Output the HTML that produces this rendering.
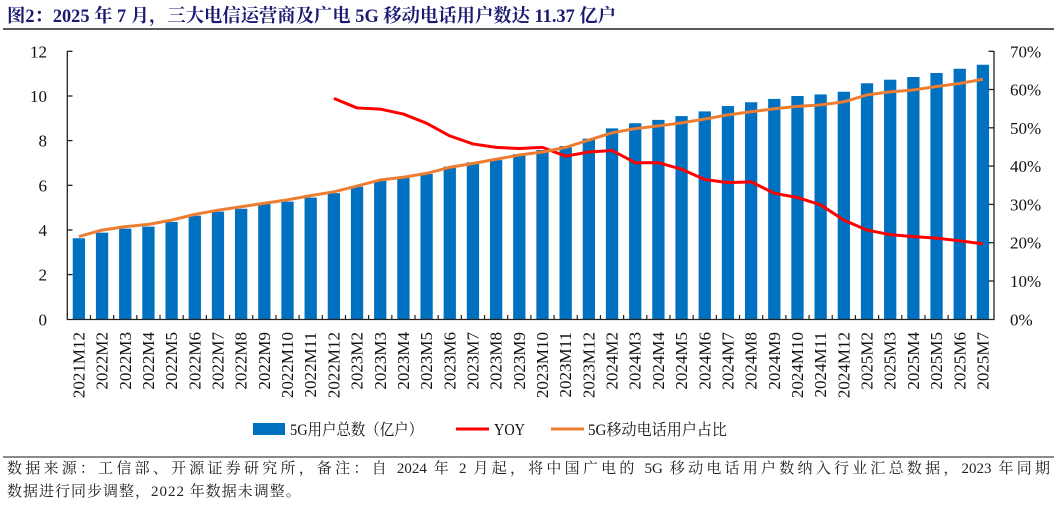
<!DOCTYPE html>
<html><head><meta charset="utf-8"><style>
html,body{margin:0;padding:0;background:#fff;}
#wrap{position:relative;width:1057px;height:508px;overflow:hidden;}
svg{display:block;position:absolute;left:0;top:0;}
.ft{position:absolute;left:7px;font-family:"Liberation Serif","Noto Serif CJK SC",serif;font-size:15px;color:#222;white-space:nowrap;line-height:18px;}
#f1{top:460px;width:1043px;text-align:justify;text-align-last:justify;white-space:normal;}
#f2{top:483px;letter-spacing:1px;}
</style></head><body>
<div id="wrap">
<svg width="1057" height="508" viewBox="0 0 1057 508" xmlns="http://www.w3.org/2000/svg">
<rect width="1057" height="508" fill="#fff"/>
<text x="7" y="22" textLength="609" lengthAdjust="spacingAndGlyphs" font-family="'Liberation Serif','Noto Serif CJK SC',serif" font-size="18.5" font-weight="bold" fill="#1a1a70">图2：2025 年 7 月，三大电信运营商及广电 5G 移动电话用户数达 11.37 亿户</text>
<line x1="3" y1="29" x2="1054" y2="29" stroke="#222" stroke-width="1.5"/>

<g transform="translate(67.3,319.3) scale(23.18,-22.33)" fill="#0070C0">
<rect x="0.235" y="0" width="0.53" height="3.63"/>
<rect x="1.235" y="0" width="0.53" height="3.88"/>
<rect x="2.235" y="0" width="0.53" height="4.06"/>
<rect x="3.235" y="0" width="0.53" height="4.15"/>
<rect x="4.235" y="0" width="0.53" height="4.36"/>
<rect x="5.235" y="0" width="0.53" height="4.64"/>
<rect x="6.235" y="0" width="0.53" height="4.82"/>
<rect x="7.235" y="0" width="0.53" height="4.95"/>
<rect x="8.235" y="0" width="0.53" height="5.16"/>
<rect x="9.235" y="0" width="0.53" height="5.27"/>
<rect x="10.235" y="0" width="0.53" height="5.45"/>
<rect x="11.235" y="0" width="0.53" height="5.65"/>
<rect x="12.235" y="0" width="0.53" height="5.94"/>
<rect x="13.235" y="0" width="0.53" height="6.21"/>
<rect x="14.235" y="0" width="0.53" height="6.36"/>
<rect x="15.235" y="0" width="0.53" height="6.51"/>
<rect x="16.235" y="0" width="0.53" height="6.84"/>
<rect x="17.235" y="0" width="0.53" height="7.03"/>
<rect x="18.235" y="0" width="0.53" height="7.13"/>
<rect x="19.235" y="0" width="0.53" height="7.40"/>
<rect x="20.235" y="0" width="0.53" height="7.58"/>
<rect x="21.235" y="0" width="0.53" height="7.76"/>
<rect x="22.235" y="0" width="0.53" height="8.09"/>
<rect x="23.235" y="0" width="0.53" height="8.55"/>
<rect x="24.235" y="0" width="0.53" height="8.78"/>
<rect x="25.235" y="0" width="0.53" height="8.93"/>
<rect x="26.235" y="0" width="0.53" height="9.10"/>
<rect x="27.235" y="0" width="0.53" height="9.31"/>
<rect x="28.235" y="0" width="0.53" height="9.55"/>
<rect x="29.235" y="0" width="0.53" height="9.72"/>
<rect x="30.235" y="0" width="0.53" height="9.87"/>
<rect x="31.235" y="0" width="0.53" height="10.00"/>
<rect x="32.235" y="0" width="0.53" height="10.07"/>
<rect x="33.235" y="0" width="0.53" height="10.19"/>
<rect x="34.235" y="0" width="0.53" height="10.57"/>
<rect x="35.235" y="0" width="0.53" height="10.73"/>
<rect x="36.235" y="0" width="0.53" height="10.85"/>
<rect x="37.235" y="0" width="0.53" height="11.03"/>
<rect x="38.235" y="0" width="0.53" height="11.22"/>
<rect x="39.235" y="0" width="0.53" height="11.40"/>
</g>

<g transform="translate(67.3,319.3) scale(23.18,-3.829)" fill="none" stroke-linejoin="round" stroke-linecap="butt">
<polyline vector-effect="non-scaling-stroke" stroke="#FF0000" stroke-width="3" points="11.5,57.7 12.5,55.2 13.5,54.9 14.5,53.6 15.5,51.2 16.5,47.9 17.5,45.8 18.5,44.9 19.5,44.6 20.5,44.9 21.5,42.6 22.5,43.7 23.5,44.1 24.5,40.9 25.5,40.9 26.5,39.2 27.5,36.5 28.5,35.7 29.5,35.9 30.5,32.9 31.5,31.8 32.5,29.9 33.5,25.9 34.5,23.3 35.5,22.1 36.5,21.6 37.5,21.2 38.5,20.5 39.5,19.7"/>
<polyline vector-effect="non-scaling-stroke" stroke="#ED7D31" stroke-width="3" points="0.5,21.6 1.5,23.3 2.5,24.2 3.5,24.8 4.5,25.9 5.5,27.4 6.5,28.5 7.5,29.4 8.5,30.3 9.5,31.2 10.5,32.3 11.5,33.3 12.5,34.8 13.5,36.4 14.5,37.1 15.5,38.1 16.5,39.7 17.5,40.7 18.5,41.8 19.5,42.9 20.5,43.7 21.5,44.9 22.5,46.8 23.5,48.7 24.5,49.8 25.5,50.5 26.5,51.3 27.5,52.3 28.5,53.4 29.5,54.2 30.5,55.0 31.5,55.6 32.5,56.0 33.5,56.8 34.5,58.6 35.5,59.4 36.5,59.9 37.5,60.8 38.5,61.6 39.5,62.7"/>
</g>

<g stroke="#222" stroke-width="1.3" fill="none">
<line x1="67.3" y1="51" x2="67.3" y2="319.5"/>
<line x1="994" y1="51" x2="994" y2="319.5"/>
<line x1="66.7" y1="319.5" x2="994.6" y2="319.5"/>
<line x1="67.3" y1="51.3" x2="72.5" y2="51.3"/>
<line x1="67.3" y1="96" x2="72.5" y2="96"/>
<line x1="67.3" y1="140.6" x2="72.5" y2="140.6"/>
<line x1="67.3" y1="185.3" x2="72.5" y2="185.3"/>
<line x1="67.3" y1="230" x2="72.5" y2="230"/>
<line x1="67.3" y1="274.6" x2="72.5" y2="274.6"/>
<line x1="988.5" y1="51.3" x2="994" y2="51.3"/>
<line x1="988.5" y1="89.5" x2="994" y2="89.5"/>
<line x1="988.5" y1="127.8" x2="994" y2="127.8"/>
<line x1="988.5" y1="166.1" x2="994" y2="166.1"/>
<line x1="988.5" y1="204.4" x2="994" y2="204.4"/>
<line x1="988.5" y1="242.7" x2="994" y2="242.7"/>
<line x1="988.5" y1="281" x2="994" y2="281"/>
</g>
<g transform="translate(67.3,0) scale(23.18,1)">
<path vector-effect="non-scaling-stroke" stroke="#222" stroke-width="1.2" d="M1,315V319.5M2,315V319.5M3,315V319.5M4,315V319.5M5,315V319.5M6,315V319.5M7,315V319.5M8,315V319.5M9,315V319.5M10,315V319.5M11,315V319.5M12,315V319.5M13,315V319.5M14,315V319.5M15,315V319.5M16,315V319.5M17,315V319.5M18,315V319.5M19,315V319.5M20,315V319.5M21,315V319.5M22,315V319.5M23,315V319.5M24,315V319.5M25,315V319.5M26,315V319.5M27,315V319.5M28,315V319.5M29,315V319.5M30,315V319.5M31,315V319.5M32,315V319.5M33,315V319.5M34,315V319.5M35,315V319.5M36,315V319.5M37,315V319.5M38,315V319.5M39,315V319.5"/>
</g>

<g font-family="'Liberation Serif',serif" font-size="17" fill="#111" text-anchor="end">
<text x="47" y="57.3">12</text>
<text x="47" y="102">10</text>
<text x="47" y="146.6">8</text>
<text x="47" y="191.3">6</text>
<text x="47" y="236">4</text>
<text x="47" y="280.6">2</text>
<text x="47" y="325.3">0</text>
</g>
<g font-family="'Liberation Serif',serif" font-size="17" fill="#111">
<text x="1010" y="57.3">70%</text>
<text x="1010" y="95.5">60%</text>
<text x="1010" y="133.8">50%</text>
<text x="1010" y="172.1">40%</text>
<text x="1010" y="210.4">30%</text>
<text x="1010" y="248.7">20%</text>
<text x="1010" y="287">10%</text>
<text x="1010" y="325.3">0%</text>
</g>

<g font-family="'Liberation Serif',serif" font-size="17" fill="#111" text-anchor="end">
<text transform="translate(84.4,332) rotate(-90)">2021M12</text>
<text transform="translate(107.6,332) rotate(-90)">2022M2</text>
<text transform="translate(130.8,332) rotate(-90)">2022M3</text>
<text transform="translate(154,332) rotate(-90)">2022M4</text>
<text transform="translate(177.1,332) rotate(-90)">2022M5</text>
<text transform="translate(200.3,332) rotate(-90)">2022M6</text>
<text transform="translate(223.5,332) rotate(-90)">2022M7</text>
<text transform="translate(246.7,332) rotate(-90)">2022M8</text>
<text transform="translate(269.8,332) rotate(-90)">2022M9</text>
<text transform="translate(293,332) rotate(-90)">2022M10</text>
<text transform="translate(316.2,332) rotate(-90)">2022M11</text>
<text transform="translate(339.4,332) rotate(-90)">2022M12</text>
<text transform="translate(362.6,332) rotate(-90)">2023M2</text>
<text transform="translate(385.8,332) rotate(-90)">2023M3</text>
<text transform="translate(408.9,332) rotate(-90)">2023M4</text>
<text transform="translate(432.1,332) rotate(-90)">2023M5</text>
<text transform="translate(455.3,332) rotate(-90)">2023M6</text>
<text transform="translate(478.5,332) rotate(-90)">2023M7</text>
<text transform="translate(501.7,332) rotate(-90)">2023M8</text>
<text transform="translate(524.8,332) rotate(-90)">2023M9</text>
<text transform="translate(548,332) rotate(-90)">2023M10</text>
<text transform="translate(571.2,332) rotate(-90)">2023M11</text>
<text transform="translate(594.4,332) rotate(-90)">2023M12</text>
<text transform="translate(617.6,332) rotate(-90)">2024M2</text>
<text transform="translate(640.7,332) rotate(-90)">2024M3</text>
<text transform="translate(663.9,332) rotate(-90)">2024M4</text>
<text transform="translate(687.1,332) rotate(-90)">2024M5</text>
<text transform="translate(710.3,332) rotate(-90)">2024M6</text>
<text transform="translate(733.5,332) rotate(-90)">2024M7</text>
<text transform="translate(756.6,332) rotate(-90)">2024M8</text>
<text transform="translate(779.8,332) rotate(-90)">2024M9</text>
<text transform="translate(803,332) rotate(-90)">2024M10</text>
<text transform="translate(826.2,332) rotate(-90)">2024M11</text>
<text transform="translate(849.4,332) rotate(-90)">2024M12</text>
<text transform="translate(872.5,332) rotate(-90)">2025M2</text>
<text transform="translate(895.7,332) rotate(-90)">2025M3</text>
<text transform="translate(918.9,332) rotate(-90)">2025M4</text>
<text transform="translate(942.1,332) rotate(-90)">2025M5</text>
<text transform="translate(965.3,332) rotate(-90)">2025M6</text>
<text transform="translate(988.4,332) rotate(-90)">2025M7</text>
</g>

<rect x="253" y="423" width="32" height="12" fill="#0070C0"/>
<text x="290" y="435" textLength="133" lengthAdjust="spacingAndGlyphs" font-family="'Liberation Serif','Noto Serif CJK SC',serif" font-size="16" fill="#111">5G用户总数（亿户）</text>
<line x1="456" y1="429" x2="489" y2="429" stroke="#FF0000" stroke-width="3"/>
<text x="494" y="435" textLength="31" lengthAdjust="spacingAndGlyphs" font-family="'Liberation Serif',serif" font-size="17" fill="#111">YOY</text>
<line x1="551" y1="429" x2="584" y2="429" stroke="#ED7D31" stroke-width="3"/>
<text x="588" y="435" textLength="139" lengthAdjust="spacingAndGlyphs" font-family="'Liberation Serif','Noto Serif CJK SC',serif" font-size="16" fill="#111">5G移动电话用户占比</text>

<line x1="3" y1="457" x2="1054" y2="457" stroke="#444" stroke-width="1.3"/>
</svg>
<div class="ft" id="f1">数据来源：工信部、开源证券研究所，备注：自 2024 年 2 月起，将中国广电的 5G 移动电话用户数纳入行业汇总数据，2023 年同期</div>
<div class="ft" id="f2">数据进行同步调整，2022 年数据未调整。</div>
</div>
</body></html>
